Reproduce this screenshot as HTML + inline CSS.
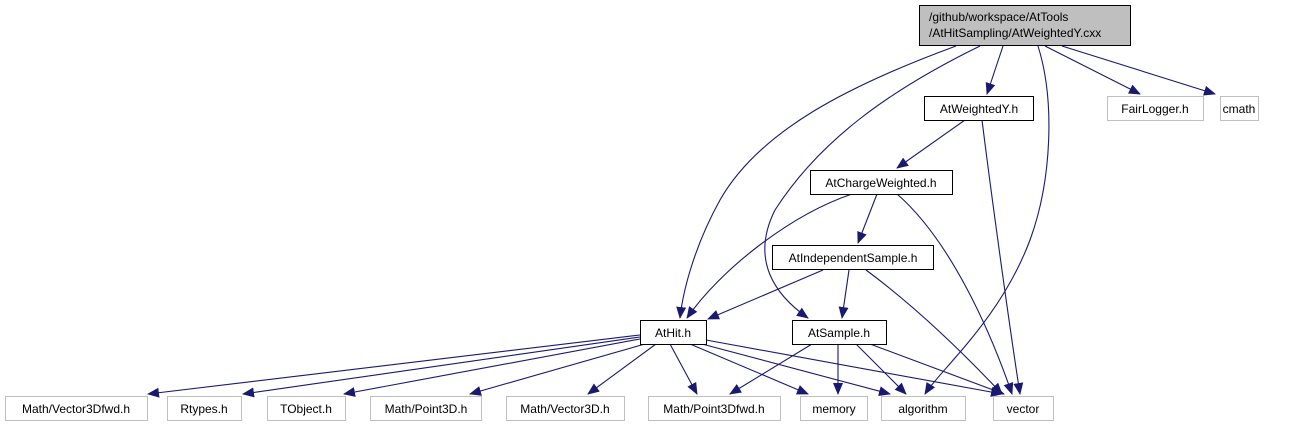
<!DOCTYPE html>
<html><head><meta charset="utf-8"><style>
html,body{margin:0;padding:0;background:#fff;width:1293px;height:425px;overflow:hidden}
text{font-family:"Liberation Sans",sans-serif;font-size:12px;fill:#000}
</style></head><body>
<svg width="1293" height="425" viewBox="0 0 1293 425" xmlns="http://www.w3.org/2000/svg">
<defs><marker id="a" markerWidth="12" markerHeight="10" refX="11" refY="5" orient="auto" markerUnits="userSpaceOnUse"><path d="M0,0 L12,5 L0,10 z" fill="#191970"/></marker></defs>
<g fill="none" stroke="#191970" stroke-width="1.1" marker-end="url(#a)">
<path d="M956,46 C850,85 760,130 720,200 C695,245 683,290 680,318"/>
<path d="M980,46 C890,90 820,140 775,210 C750,260 775,295 808,318"/>
<path d="M1003,46 L987,94"/>
<path d="M1038,46 C1055,100 1052,180 1030,240 C1000,320 940,370 925,394"/>
<path d="M1045,46 L1140,94"/>
<path d="M1062,46 L1215,94"/>
<path d="M965,120 L897,168"/>
<path d="M982,120 C992,200 1010,330 1020,394"/>
<path d="M852,194 C790,215 720,270 687,318"/>
<path d="M877,194 L858,243"/>
<path d="M897,194 C950,240 990,330 1012,394"/>
<path d="M823,270 L708,319"/>
<path d="M849,270 L842,318"/>
<path d="M866,270 C920,310 970,360 1002,394"/>
<path d="M640,335 L148,394"/>
<path d="M640,337 L243,394"/>
<path d="M640,339 L344,394"/>
<path d="M645,344 L470,394"/>
<path d="M656,344 L588,394"/>
<path d="M670,344 L697,394"/>
<path d="M690,344 L808,394"/>
<path d="M702,344 L890,394"/>
<path d="M706,340 L1002,394"/>
<path d="M812,344 L730,394"/>
<path d="M838,344 L838,394"/>
<path d="M856,344 L906,394"/>
<path d="M870,344 L1004,394"/>
</g>
<rect x="919.5" y="5.5" width="211" height="40" fill="#bfbfbf" stroke="#000"/>
<text x="929" y="21">/github/workspace/AtTools</text>
<text x="929" y="37">/AtHitSampling/AtWeightedY.cxx</text>
<g fill="#fff" stroke="#000">
<rect x="924.5" y="96.5" width="109" height="24"/>
<rect x="810.5" y="170.5" width="142" height="24"/>
<rect x="772.5" y="245.5" width="161" height="24"/>
<rect x="640.5" y="320.5" width="66" height="24"/>
<rect x="792.5" y="320.5" width="94" height="24"/>
</g>
<g fill="#fff" stroke="#bfbfbf">
<rect x="1107.5" y="96.5" width="96" height="24"/>
<rect x="1220.5" y="96.5" width="38" height="24"/>
<rect x="5.5" y="396.5" width="142" height="24"/>
<rect x="167.5" y="396.5" width="74" height="24"/>
<rect x="267.5" y="396.5" width="78" height="24"/>
<rect x="370.5" y="396.5" width="111" height="24"/>
<rect x="506.5" y="396.5" width="118" height="24"/>
<rect x="648.5" y="396.5" width="132" height="24"/>
<rect x="800.5" y="396.5" width="67" height="24"/>
<rect x="881.5" y="396.5" width="84" height="24"/>
<rect x="993.5" y="396.5" width="60" height="24"/>
</g>
<g text-anchor="middle">
<text x="979" y="113">AtWeightedY.h</text>
<text x="881" y="187">AtChargeWeighted.h</text>
<text x="853" y="262">AtIndependentSample.h</text>
<text x="673" y="337">AtHit.h</text>
<text x="839" y="337">AtSample.h</text>
<text x="1155" y="113">FairLogger.h</text>
<text x="1239" y="113">cmath</text>
<text x="76" y="413">Math/Vector3Dfwd.h</text>
<text x="204" y="413">Rtypes.h</text>
<text x="306" y="413">TObject.h</text>
<text x="426" y="413">Math/Point3D.h</text>
<text x="565" y="413">Math/Vector3D.h</text>
<text x="714" y="413">Math/Point3Dfwd.h</text>
<text x="834" y="413">memory</text>
<text x="923" y="413">algorithm</text>
<text x="1023" y="413">vector</text>
</g>
</svg>
</body></html>
